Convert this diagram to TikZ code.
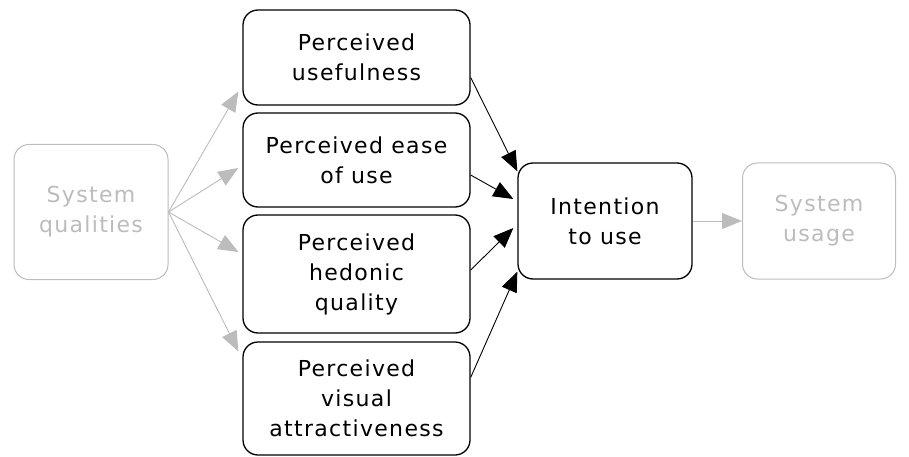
\documentclass[tikz,border=0pt]{standalone}
\usepackage{fontspec}
\setmainfont[LetterSpace=6]{DejaVu Sans}
\usetikzlibrary{calc, arrows.meta}
\definecolor{faint}{RGB}{188,188,188}

\begin{document}
\begin{tikzpicture}[x=1pt, y=-1pt,
    box/.style={draw, line width=1.3pt, rounded corners=15pt, align=center, font=\fontsize{22}{30}\selectfont, inner sep=0pt},
    faintbox/.style={box, draw=faint, text=faint, line width=1pt},
    link/.style={line width=0.9pt, -{Triangle[length=20pt, width=16pt]}},
    fainlink/.style={link, draw=faint}]
      \useasboundingbox (0,0) rectangle (909,457);

      \node[faintbox, minimum width=154pt, minimum height=135pt] (Qual) at (91,212) {System\\qualities};
      \node[box, minimum width=227pt, minimum height=95pt] (Useful) at (356.5,57.5) {Perceived\\usefulness};
      \node[box, minimum width=227pt, minimum height=94pt] (Ease) at (356.5,160) {Perceived ease\\of use};
      \node[box, minimum width=227pt, minimum height=118pt] (Hedonic) at (356.5,274) {Perceived\\hedonic\\quality};
      \node[box, minimum width=227pt, minimum height=113pt] (Visual) at (356.5,398.5) {Perceived\\visual\\attractiveness};
      \node[box, minimum width=174pt, minimum height=116pt] (Intent) at (605,221) {Intention\\to use};
      \node[faintbox, minimum width=153pt, minimum height=116pt] (Usage) at (819,221) {System\\usage};

      \draw[fainlink] (Qual.east) -- ($(Useful.west)+(-4,34)$);
      \draw[fainlink] (Qual.east) -- ($(Ease.west)+(-4,8)$);
      \draw[fainlink] (Qual.east) -- ($(Hedonic.west)+(-4,-22)$);
      \draw[fainlink] (Qual.east) -- ($(Visual.north west)+(-4,10)$);

      \draw[link] ($(Useful.east)+(0,20)$) -- ($(Intent.north west)+(0,9)$);
      \draw[link] ($(Ease.east)+(0,15)$) -- ($(Intent.west)+(-4,-22)$);
      \draw[link] ($(Hedonic.east)+(0,-4)$) -- ($(Intent.west)+(-4,7)$);
      \draw[link] ($(Visual.east)+(0,-21)$) -- ($(Intent.south west)+(0,-8)$);

      \draw[fainlink] (Intent.east) -- (Usage.west);
\end{tikzpicture}
\end{document}
